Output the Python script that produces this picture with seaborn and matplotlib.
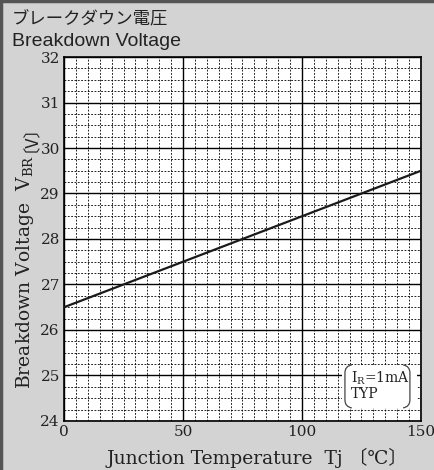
import matplotlib
matplotlib.use("Agg")
import matplotlib.pyplot as plt
import seaborn as sns
import pandas as pd
from matplotlib.ticker import MultipleLocator
from matplotlib.lines import Line2D
from matplotlib.patches import Rectangle, PathPatch
from matplotlib.path import Path

# data
temps = [0, 50, 100, 150]
vbr = [26.5, 27.5, 28.5, 29.5]
x_ticks = [0, 50, 100, 150]
y_ticks = [24, 25, 26, 27, 28, 29, 30, 31, 32]
title_jp = "ブレークダウン電圧"
title_en = "Breakdown Voltage"
xlabel = "Junction Temperature  Tj 〔℃〕"
ylabel_main = "Breakdown Voltage  V$_{\\mathrm{BR}}$"
ylabel_unit = "〔V〕"
note1 = "I$_{\\mathrm{R}}$=1mA"
note2 = "TYP"

df = pd.DataFrame({"Tj": temps, "VBR": vbr})

plt.rcParams["mathtext.fontset"] = "dejavuserif"
serif = ["DejaVu Serif", "Noto Sans CJK JP"]
bg = "#d3d3d3"
txt = "#222222"

fig = plt.figure(figsize=(4.34, 4.70), dpi=100, facecolor=bg)
ax = fig.add_axes([0.1475, 0.1043, 0.8225, 0.7744])
ax.set_facecolor("white")

sns.lineplot(data=df, x="Tj", y="VBR", ax=ax, color="#1a1a1a", linewidth=1.6, zorder=5)

ax.set_xlim(0, 150)
ax.set_ylim(24, 32)
ax.set_xticks(x_ticks)
ax.set_yticks(y_ticks)
ax.set_xticklabels([str(t) for t in x_ticks], family=serif, fontsize=11)
ax.set_yticklabels([str(t) for t in y_ticks], family=serif, fontsize=11)
ax.xaxis.set_minor_locator(MultipleLocator(5))
ax.yaxis.set_minor_locator(MultipleLocator(0.25))
ax.tick_params(which="both", length=0, pad=3, colors=txt)
ax.grid(which="major", color="black", linewidth=1.0, linestyle="-")
ax.grid(which="minor", color="black", linewidth=0.6, linestyle=(0, (2.2, 1.8)))
ax.set_axisbelow(True)
for s in ax.spines.values():
    s.set_color("black")
    s.set_linewidth(1.2)

ax.set_xlabel(xlabel, family=serif, fontsize=13.5, color=txt)
ax.xaxis.set_label_coords(0.54, -0.075)
ax.set_ylabel(ylabel_main, family=serif, fontsize=13.5, color=txt)
ax.yaxis.set_label_coords(-0.078, 0.41)
ax.annotate(ylabel_unit, xy=(0.5, 1.0), xycoords=ax.yaxis.label, rotation=90,
            ha="center", va="bottom", family=["Noto Sans CJK JP"], fontsize=12.5,
            color=txt, xytext=(-2.5, 2), textcoords="offset points",
            annotation_clip=False)

# note box
ax.add_patch(Rectangle((0.779, 0.036), 0.21, 0.118, transform=ax.transAxes,
                       facecolor="white", edgecolor="none", zorder=6))
lb = Path([(0.806, 0.154), (0.787, 0.151), (0.787, 0.132), (0.787, 0.058),
           (0.787, 0.039), (0.806, 0.036)],
          [Path.MOVETO, Path.CURVE3, Path.CURVE3, Path.LINETO, Path.CURVE3, Path.CURVE3])
rb = Path([(0.950, 0.154), (0.969, 0.151), (0.969, 0.132), (0.969, 0.058),
           (0.969, 0.039), (0.950, 0.036)],
          [Path.MOVETO, Path.CURVE3, Path.CURVE3, Path.LINETO, Path.CURVE3, Path.CURVE3])
for p in (lb, rb):
    ax.add_patch(PathPatch(p, transform=ax.transAxes, facecolor="none",
                           edgecolor="#444444", linewidth=0.9, zorder=7))
ax.text(0.805, 0.118, note1, transform=ax.transAxes, family=serif, fontsize=10,
        va="center", ha="left", zorder=8, color=txt)
ax.text(0.805, 0.074, note2, transform=ax.transAxes, family=serif, fontsize=10,
        va="center", ha="left", zorder=8, color=txt)

# titles
fig.text(0.028, 0.949, title_jp, family=["Noto Sans CJK JP"], fontsize=12.5,
         va="baseline", ha="left", color=txt)
fig.text(0.028, 0.903, title_en, family=["Liberation Sans", "DejaVu Sans"], fontsize=14,
         va="baseline", ha="left", color=txt)

# frame
fig.add_artist(Line2D([0.002, 0.002], [0, 1], transform=fig.transFigure, color="#555555", linewidth=2.5))
fig.add_artist(Line2D([0, 1], [0.998, 0.998], transform=fig.transFigure, color="#555555", linewidth=2.5))

fig.savefig("out.png", dpi=100, facecolor=bg)
